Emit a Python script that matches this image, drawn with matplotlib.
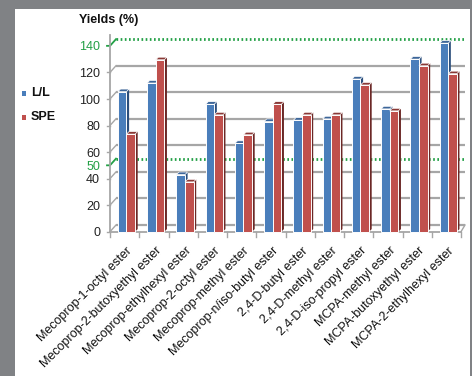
import matplotlib
matplotlib.use("Agg")
import matplotlib.pyplot as plt
from matplotlib.patches import Polygon, Rectangle

plt.rcParams['font.family'] = ['Liberation Sans', 'DejaVu Sans']

categories = [
    "Mecoprop-1-octyl ester",
    "Mecoprop-2-butoxyethyl ester",
    "Mecoprop-ethylhexyl ester",
    "Mecoprop-2-octyl ester",
    "Mecoprop-methyl ester",
    "Mecoprop-n/iso-butyl ester",
    "2,4-D-butyl ester",
    "2,4-D-methyl ester",
    "2,4-D-iso-propyl ester",
    "MCPA-methyl ester",
    "MCPA-butoxyethyl ester",
    "MCPA-2-ethylhexyl ester",
]
ll_values = [105.5, 112, 43, 96, 66.5, 83, 84, 85, 115, 92.5, 130, 142]
spe_values = [73.5, 129.5, 37.5, 88, 73, 96, 88, 88, 110.5, 91, 125, 119]
series_names = ["L/L", "SPE"]
y_ticks = [0, 20, 40, 60, 80, 100, 120]
limit_lines = [50, 140]

W, H, DPI = 472, 376, 100
fig = plt.figure(figsize=(W / DPI, H / DPI), dpi=DPI, facecolor="#808285")
fig.patches.append(Rectangle((15 / W, 0), (470 - 15) / W, (H - 9) / H,
                             transform=fig.transFigure, facecolor="white",
                             edgecolor="none", zorder=-10))

# plot area (front plane)
x0_px, x1_px = 110, 461
ymin, ymax = -3, 152
px_per_unit = 1.3275
bot_px = 231.7 + (-ymin) * px_per_unit
top_px = 231.7 - ymax * px_per_unit
ax = fig.add_axes([x0_px / W, (H - bot_px) / H, (x1_px - x0_px) / W, (bot_px - top_px) / H])
ax.set_xlim(0, len(categories))
ax.set_ylim(ymin, ymax)
ax.axis("off")
ax.set_zorder(5)

cat_px = (x1_px - x0_px) / len(categories)
# depth offset of the back wall
depth_dx = 6 / cat_px
depth_dy = 6.7 / px_per_unit

grid_col = "#a6a6a6"
green = "#23a046"
x_back0 = depth_dx
x_back1 = len(categories) + 4 / cat_px

# back-wall gridlines with depth connectors
for v in y_ticks:
    ax.plot([x_back0, x_back1], [v + depth_dy, v + depth_dy], color=grid_col, lw=1.6,
            zorder=1, clip_on=False, solid_capstyle="butt")
    ax.plot([0, x_back0], [v, v + depth_dy], color=grid_col, lw=1.0, zorder=1, clip_on=False)
    ax.plot([-3 / cat_px, 0], [v, v], color=grid_col, lw=1.0, zorder=1, clip_on=False)
    ax.text(-10 / cat_px, v - 1.2, str(v), ha="right", va="center", fontsize=9,
            color="#222222")

for v in limit_lines:
    ax.plot([x_back0, x_back1], [v + depth_dy, v + depth_dy], color=green, lw=2.0,
            ls=(0, (0.6, 0.9)), zorder=1.5, clip_on=False)
    ax.plot([-3 / cat_px, 0, x_back0], [v, v, v + depth_dy], color=green, lw=1.3,
            zorder=1.5, clip_on=False)
    ax.text(-10 / cat_px, v - 1.2, str(v), ha="right", va="center", fontsize=9,
            color=green)

# front axes lines
ax.plot([0, 0], [0, 148], color=grid_col, lw=1.3, zorder=2, clip_on=False)
ax.plot([0, len(categories)], [0, 0], color=grid_col, lw=1.3, zorder=2, clip_on=False)
ax.plot([len(categories), x_back1], [0, depth_dy], color=grid_col, lw=1.0, zorder=2,
        clip_on=False)
for i in range(len(categories) + 1):
    ax.plot([i, i], [0, -5 / px_per_unit], color=grid_col, lw=1.0, zorder=2, clip_on=False)

# 3D-style columns
bar_w = 8.6 / cat_px
side_dx = 2.6 / cat_px
side_dy = 2.6 / px_per_unit
styles = [
    dict(front="#4a7ebb", side="#2c4f7c", top="#3d6699"),
    dict(front="#c0504d", side="#6b2826", top="#8a3936"),
]


def draw_column(x, h, st, z):
    ax.add_patch(Polygon([(x + bar_w, 0), (x + bar_w + side_dx, side_dy),
                          (x + bar_w + side_dx, h + side_dy), (x + bar_w, h)],
                         closed=True, facecolor=st["side"], edgecolor="none", zorder=z))
    ax.add_patch(Polygon([(x, h), (x + side_dx, h + side_dy),
                          (x + bar_w + side_dx, h + side_dy), (x + bar_w, h)],
                         closed=True, facecolor=st["top"], edgecolor="white", lw=0.5, zorder=z))
    ax.add_patch(Rectangle((x, 0), bar_w, h, facecolor=st["front"], edgecolor="white",
                           lw=0.7, zorder=z + 0.1))


for i, (a, b) in enumerate(zip(ll_values, spe_values)):
    xb = i + 0.27
    draw_column(xb, a, styles[0], 3 + i * 0.01)
    draw_column(xb + bar_w, b, styles[1], 3.5 + i * 0.01)

# category labels
for i, name in enumerate(categories):
    ax.text(i + 0.56, -9.9, name, rotation=45, rotation_mode="anchor",
            ha="right", va="top", fontsize=9, color="#111111")

# title and legend
fig.text(79 / W, 1 - 20.5 / H, "Yields (%)", ha="left", va="center", fontsize=9,
         fontweight="bold", color="#111111")
for k, (name, st) in enumerate(zip(series_names, styles)):
    yc = 93 + k * 24
    fig.patches.append(Rectangle((21.5 / W, 1 - (yc + 2.5) / H), 4.5 / W, 4.5 / H,
                                 transform=fig.transFigure, facecolor=st["front"],
                                 edgecolor="none"))
    fig.text(31 / W, 1 - yc / H, name, ha="left", va="center", fontsize=9,
             fontweight="bold", color="#111111")

fig.savefig("out.png", dpi=DPI, facecolor=fig.get_facecolor())
